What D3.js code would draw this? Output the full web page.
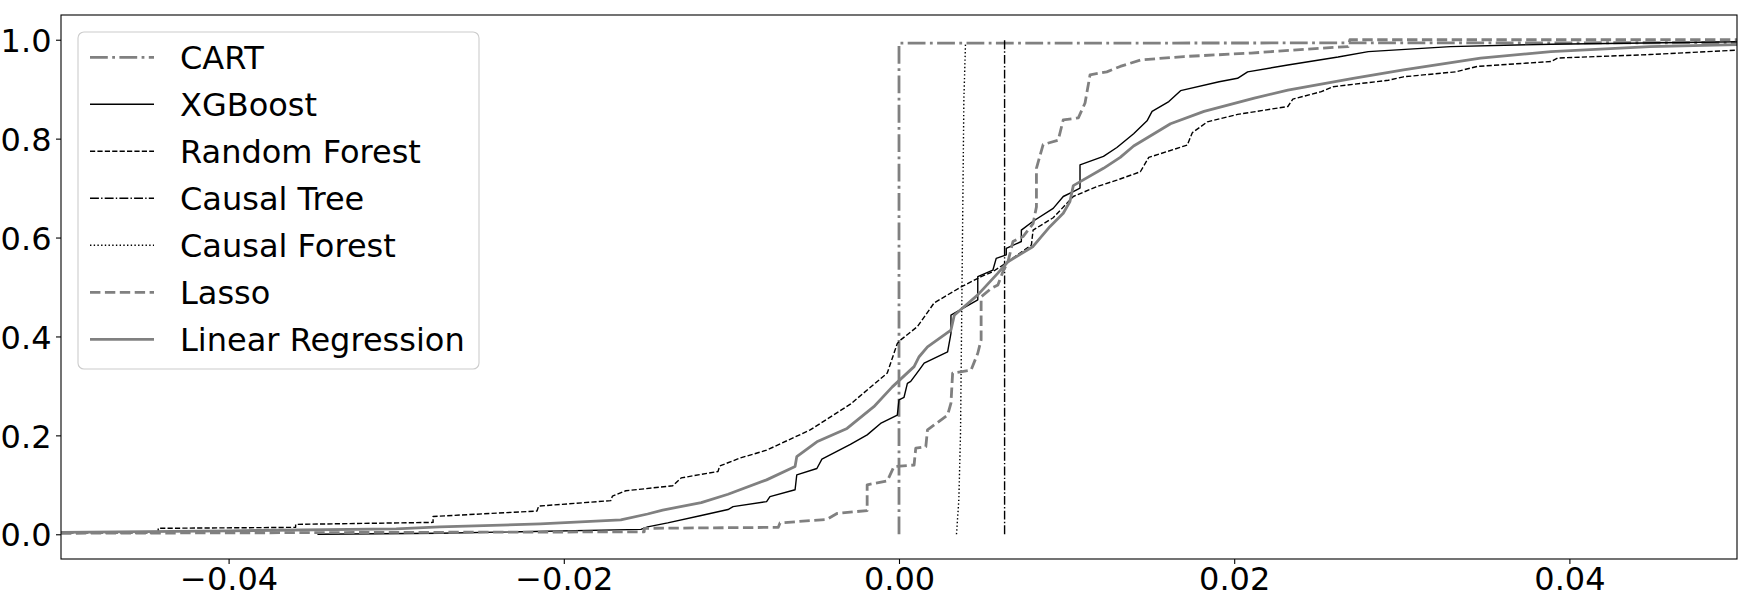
<!DOCTYPE html>
<html><head><meta charset="utf-8">
<script src="https://cdn.jsdelivr.net/npm/d3@7"></script>
<style>body{margin:0;background:#fff} svg{display:block} text{font-family:"DejaVu Sans",sans-serif}</style>
</head><body><svg id="chart" width="1747" height="601"></svg>
<script>
// ---------- data ----------
const seriesNames = ["CART", "XGBoost", "Random Forest", "Causal Tree", "Causal Forest", "Lasso", "Linear Regression"];
const xTicks = [-0.04, -0.02, 0.00, 0.02, 0.04];
const yTicks = [0.0, 0.2, 0.4, 0.6, 0.8, 1.0];

const cartX = [0.0, 0.0, 0.05];
const cartY = [0.0, 0.993, 0.994];

const xgbX = [-0.0347,-0.0274,-0.0154,-0.0150,-0.0138,-0.0118,-0.0102,-0.0099,-0.0079,-0.0077,-0.0062,-0.0061,-0.0049,-0.0046,-0.0029,-0.0019,-0.0011,-0.0001,0.0000,0.0003,0.0005,0.0007,0.0012,0.0015,0.0029,0.0031,0.0031,0.0047,0.0047,0.0056,0.0058,0.0064,0.0064,0.0073,0.0073,0.0080,0.0092,0.0098,0.0104,0.0108,0.0108,0.0122,0.0130,0.0140,0.0148,0.0151,0.0161,0.0168,0.0191,0.0202,0.0208,0.0232,0.0262,0.0280,0.0329,0.0389,0.0500];
const xgbY = [0.000,0.002,0.010,0.015,0.023,0.038,0.050,0.056,0.066,0.076,0.090,0.120,0.133,0.152,0.182,0.201,0.224,0.241,0.272,0.277,0.305,0.309,0.332,0.346,0.369,0.406,0.443,0.474,0.521,0.534,0.558,0.565,0.578,0.592,0.615,0.633,0.659,0.683,0.693,0.700,0.747,0.764,0.782,0.810,0.836,0.855,0.875,0.897,0.915,0.922,0.935,0.949,0.965,0.976,0.986,0.991,0.996];

const rfX = [-0.0500,-0.0442,-0.0442,-0.0360,-0.0360,-0.0278,-0.0278,-0.0216,-0.0215,-0.0172,-0.0171,-0.0163,-0.0135,-0.0130,-0.0108,-0.0107,-0.0095,-0.0079,-0.0053,-0.0029,-0.0007,-0.0004,-0.0001,0.0001,0.0011,0.0021,0.0037,0.0049,0.0056,0.0065,0.0079,0.0080,0.0092,0.0104,0.0118,0.0130,0.0144,0.0149,0.0172,0.0175,0.0184,0.0202,0.0232,0.0235,0.0252,0.0259,0.0292,0.0301,0.0332,0.0345,0.0389,0.0393,0.0448,0.0500];
const rfY = [0.003,0.003,0.012,0.014,0.020,0.024,0.036,0.047,0.057,0.068,0.077,0.088,0.098,0.114,0.127,0.138,0.154,0.170,0.211,0.263,0.326,0.356,0.386,0.393,0.420,0.468,0.500,0.521,0.531,0.551,0.585,0.615,0.640,0.683,0.703,0.716,0.733,0.762,0.787,0.812,0.834,0.849,0.865,0.880,0.895,0.905,0.918,0.925,0.935,0.946,0.956,0.963,0.970,0.979];

const ctX = [0.0063, 0.0063];
const ctY = [0.0, 1.0];

const cfX = [0.00343,0.00357,0.00367,0.00373,0.00381,0.00387,0.00397];
const cfY = [0.000,0.069,0.204,0.406,0.676,0.878,0.995];

const lassoX = [-0.0500,-0.0274,-0.0152,-0.0152,-0.0072,-0.0071,-0.0043,-0.0037,-0.0019,-0.0019,-0.0007,-0.0003,0.0009,0.0010,0.0016,0.0017,0.0029,0.0031,0.0032,0.0043,0.0047,0.0049,0.0049,0.0055,0.0059,0.0062,0.0065,0.0068,0.0074,0.0077,0.0080,0.0082,0.0082,0.0086,0.0095,0.0098,0.0107,0.0111,0.0114,0.0124,0.0132,0.0144,0.0170,0.0210,0.0252,0.0268,0.0269,0.0500];
const lassoY = [0.002,0.004,0.005,0.012,0.014,0.023,0.030,0.042,0.048,0.100,0.108,0.137,0.140,0.174,0.177,0.211,0.241,0.265,0.326,0.332,0.366,0.393,0.480,0.497,0.504,0.531,0.551,0.592,0.602,0.615,0.628,0.662,0.740,0.788,0.797,0.838,0.842,0.872,0.929,0.935,0.946,0.959,0.966,0.973,0.983,0.986,1.000,1.000];

const lrX = [-0.0500,-0.0400,-0.0300,-0.0274,-0.0214,-0.0166,-0.0150,-0.0141,-0.0118,-0.0102,-0.0079,-0.0062,-0.0061,-0.0049,-0.0031,-0.0015,-0.0004,0.0009,0.0012,0.0017,0.0031,0.0033,0.0047,0.0059,0.0065,0.0080,0.0090,0.0098,0.0102,0.0104,0.0122,0.0132,0.0140,0.0162,0.0182,0.0212,0.0232,0.0271,0.0301,0.0347,0.0389,0.0448,0.0500];
const lrY = [0.004,0.007,0.011,0.015,0.021,0.029,0.041,0.049,0.064,0.081,0.110,0.137,0.157,0.187,0.214,0.258,0.298,0.339,0.359,0.379,0.413,0.443,0.484,0.528,0.551,0.582,0.622,0.649,0.673,0.705,0.740,0.762,0.785,0.830,0.855,0.882,0.898,0.922,0.939,0.963,0.976,0.986,0.990];

// ---------- styles ----------
const GRAY = "#808080";
const FONT = 32;
const styles = [
  {color: GRAY,   width: 2.8, dash: "17.8,4.4,2.8,4.4"},
  {color: "#000", width: 1.4, dash: null},
  {color: "#000", width: 1.4, dash: "5.2,2.2"},
  {color: "#000", width: 1.4, dash: "8.9,2.2,1.4,2.2"},
  {color: "#000", width: 1.4, dash: "1.4,2.3"},
  {color: GRAY,   width: 2.8, dash: "10.4,4.5"},
  {color: GRAY,   width: 2.8, dash: null}
];
const seriesXs = [cartX, xgbX, rfX, ctX, cfX, lassoX, lrX];
const seriesYs = [cartY, xgbY, rfY, ctY, cfY, lassoY, lrY];

// ---------- chart ----------
const svg = d3.select("#chart");
const L = 61, R = 1737, T = 15, B = 559;
const x = d3.scaleLinear().domain([-0.05, 0.05]).range([L, R]);
const y = d3.scaleLinear().domain([-0.05, 1.05]).range([B, T]);

svg.append("defs").append("clipPath").attr("id", "clip")
  .append("rect").attr("x", L).attr("y", T).attr("width", R - L).attr("height", B - T);

const line = d3.line().x(d => x(d[0])).y(d => y(d[1])).curve(d3.curveLinear);
const plot = svg.append("g").attr("clip-path", "url(#clip)");
seriesNames.forEach((name, i) => {
  const pts = seriesXs[i].map((v, k) => [v, seriesYs[i][k]]);
  const s = styles[i];
  plot.append("path").datum(pts)
    .attr("d", line)
    .attr("fill", "none")
    .attr("stroke", s.color)
    .attr("stroke-width", s.width)
    .attr("stroke-linejoin", "round")
    .attr("stroke-dasharray", s.dash)
    .attr("stroke-linecap", "butt");
});

// axes
const xAxis = svg.append("g").attr("transform", `translate(0,${B})`)
  .call(d3.axisBottom(x).tickValues(xTicks).tickFormat(d3.format(".2f")).tickSize(5).tickPadding(3.5).tickSizeOuter(0));
const yAxis = svg.append("g").attr("transform", `translate(${L},0)`)
  .call(d3.axisLeft(y).tickValues(yTicks).tickFormat(d3.format(".1f")).tickSize(5).tickPadding(4.5).tickSizeOuter(0));
[xAxis, yAxis].forEach(a => {
  a.select(".domain").remove();
  a.selectAll(".tick line").attr("stroke", "#000").attr("stroke-width", 1.1);
  a.selectAll(".tick text").attr("font-size", FONT).attr("fill", "#000")
    .attr("font-family", "DejaVu Sans");
});
yAxis.selectAll(".tick text").attr("dy", "0.365em");

svg.append("rect").attr("x", L).attr("y", T).attr("width", R - L).attr("height", B - T)
  .attr("fill", "none").attr("stroke", "#000").attr("stroke-width", 1.1);

// legend
const lg = svg.append("g");
lg.append("rect").attr("x", 78).attr("y", 32).attr("width", 401).attr("height", 337)
  .attr("rx", 6).attr("fill", "#fff").attr("fill-opacity", 0.8)
  .attr("stroke", "#cccccc").attr("stroke-width", 1.1);
seriesNames.forEach((name, i) => {
  const cy = 57.3 + i * 47;
  const s = styles[i];
  lg.append("line").attr("x1", 90).attr("x2", 154).attr("y1", cy).attr("y2", cy)
    .attr("stroke", s.color).attr("stroke-width", s.width)
    .attr("stroke-dasharray", s.dash);
  lg.append("text").attr("x", 180).attr("y", cy + 11.7).attr("font-size", FONT)
    .attr("fill", "#000").text(name);
});
</script></body></html>
